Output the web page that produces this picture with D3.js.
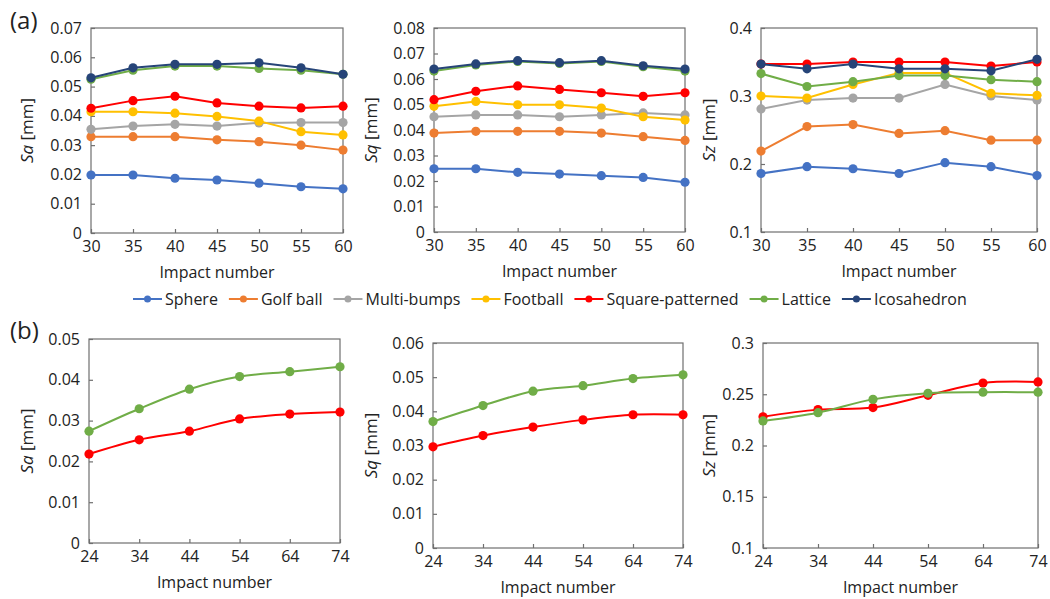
<!DOCTYPE html>
<html>
<head>
<meta charset="utf-8">
<script src="https://cdn.jsdelivr.net/npm/d3@7"></script>
<style>
  body { margin: 0; background: #fff; }
  text { font-family: "Open Sans", "Noto Sans", sans-serif; fill: #222; }
</style>
</head>
<body>
<div id="chart"></div>
<script>
// values
const SERIES = ["Sphere", "Golf ball", "Multi-bumps", "Football", "Square-patterned", "Lattice", "Icosahedron"];
const COLORS = ["#4472c4", "#ed7d31", "#a5a5a5", "#ffc000", "#ff0000", "#70ad47", "#264478"];

const IMPACT_A = [30, 35, 40, 45, 50, 55, 60];
const IMPACT_B = [24, 34, 44, 54, 64, 74];

const SA_A = [
  [0.0198, 0.0198, 0.0187, 0.0181, 0.0170, 0.0158, 0.0151],
  [0.0329, 0.0329, 0.0329, 0.0318, 0.0312, 0.0300, 0.0283],
  [0.0354, 0.0365, 0.0371, 0.0365, 0.0376, 0.0377, 0.0377],
  [0.0414, 0.0414, 0.0409, 0.0398, 0.0382, 0.0346, 0.0335],
  [0.0426, 0.0452, 0.0467, 0.0444, 0.0433, 0.0427, 0.0433],
  [0.0525, 0.0556, 0.0570, 0.0570, 0.0562, 0.0556, 0.0542],
  [0.0530, 0.0564, 0.0576, 0.0576, 0.0581, 0.0564, 0.0542]
];
const SQ_A = [
  [0.0248, 0.0248, 0.0234, 0.0227, 0.0221, 0.0214, 0.0195],
  [0.0388, 0.0395, 0.0395, 0.0395, 0.0388, 0.0374, 0.0359],
  [0.0452, 0.0459, 0.0459, 0.0452, 0.0459, 0.0467, 0.0459],
  [0.0493, 0.0512, 0.0499, 0.0499, 0.0486, 0.0452, 0.0439],
  [0.0519, 0.0552, 0.0573, 0.0559, 0.0546, 0.0532, 0.0546],
  [0.0631, 0.0655, 0.0669, 0.0661, 0.0669, 0.0648, 0.0631],
  [0.0639, 0.0659, 0.0672, 0.0664, 0.0672, 0.0652, 0.0639]
];
const SZ_A = [
  [0.186, 0.196, 0.193, 0.186, 0.202, 0.196, 0.183],
  [0.219, 0.255, 0.258, 0.245, 0.249, 0.235, 0.235],
  [0.281, 0.294, 0.297, 0.297, 0.317, 0.300, 0.294],
  [0.300, 0.297, 0.317, 0.334, 0.334, 0.304, 0.301],
  [0.347, 0.347, 0.350, 0.350, 0.350, 0.344, 0.350],
  [0.333, 0.314, 0.321, 0.330, 0.330, 0.324, 0.321],
  [0.347, 0.340, 0.347, 0.340, 0.340, 0.337, 0.354]
];

// (b): Square-patterned and Lattice only
const SERIES_B = [4, 5];
const SA_B = [
  [0.0218, 0.0253, 0.0274, 0.0304, 0.0316, 0.0321],
  [0.0274, 0.0329, 0.0377, 0.0408, 0.0420, 0.0432]
];
const SQ_B = [
  [0.0296, 0.0329, 0.0354, 0.0375, 0.0390, 0.0390],
  [0.0370, 0.0417, 0.0459, 0.0475, 0.0496, 0.0507]
];
const SZ_B = [
  [0.228, 0.235, 0.237, 0.249, 0.261, 0.262],
  [0.224, 0.232, 0.245, 0.251, 0.252, 0.252]
];

const TICKS_SA_A = [0, 0.01, 0.02, 0.03, 0.04, 0.05, 0.06, 0.07];
const TICKS_SQ_A = [0, 0.01, 0.02, 0.03, 0.04, 0.05, 0.06, 0.07, 0.08];
const TICKS_SZ_A = [0.1, 0.2, 0.3, 0.4];
const TICKS_SA_B = [0, 0.01, 0.02, 0.03, 0.04, 0.05];
const TICKS_SQ_B = [0, 0.01, 0.02, 0.03, 0.04, 0.05, 0.06];
const TICKS_SZ_B = [0.1, 0.15, 0.2, 0.25, 0.3];

const W = 1050, H = 599;

const svg = d3.select("#chart").append("svg")
  .attr("width", W).attr("height", H);

const ALL = SERIES.map((d, i) => i);
const panels = [
  {x0: 91, x1: 343, y0: 28, y1: 233, xs: IMPACT_A, data: SA_A, idx: ALL, ticks: TICKS_SA_A, sym: "a", lx: 33, smooth: false},
  {x0: 434, x1: 685, y0: 28, y1: 232, xs: IMPACT_A, data: SQ_A, idx: ALL, ticks: TICKS_SQ_A, sym: "q", lx: 377, smooth: false},
  {x0: 761, x1: 1037, y0: 28, y1: 232, xs: IMPACT_A, data: SZ_A, idx: ALL, ticks: TICKS_SZ_A, sym: "z", lx: 715, smooth: false},
  {x0: 89, x1: 340, y0: 339, y1: 543, xs: IMPACT_B, data: SA_B, idx: SERIES_B, ticks: TICKS_SA_B, sym: "a", lx: 33, smooth: true},
  {x0: 433, x1: 683, y0: 343, y1: 548, xs: IMPACT_B, data: SQ_B, idx: SERIES_B, ticks: TICKS_SQ_B, sym: "q", lx: 377, smooth: true},
  {x0: 763, x1: 1038, y0: 343, y1: 548, xs: IMPACT_B, data: SZ_B, idx: SERIES_B, ticks: TICKS_SZ_B, sym: "z", lx: 715, smooth: true}
];

panels.forEach(p => {
  const x = d3.scaleLinear().domain(d3.extent(p.xs)).range([p.x0, p.x1]);
  const y = d3.scaleLinear().domain(d3.extent(p.ticks)).range([p.y1, p.y0]);
  const g = svg.append("g");

  // frame
  g.append("rect")
    .attr("x", p.x0).attr("y", p.y0)
    .attr("width", p.x1 - p.x0).attr("height", p.y1 - p.y0)
    .attr("fill", "none").attr("stroke", "#6f6f6f").attr("stroke-width", 1.2);

  // ticks point inwards, as in the original
  const yAxis = g.append("g")
    .attr("transform", `translate(${p.x0},0)`)
    .call(d3.axisLeft(y).tickValues(p.ticks).tickSizeInner(-4).tickSizeOuter(0).tickPadding(9)
      .tickFormat(d => String(+d.toFixed(3))));
  const xAxis = g.append("g")
    .attr("transform", `translate(0,${p.y1})`)
    .call(d3.axisBottom(x).tickValues(p.xs).tickSizeInner(-4).tickSizeOuter(0).tickPadding(6));
  [yAxis, xAxis].forEach(a => {
    a.select(".domain").remove();
    a.selectAll(".tick line").attr("stroke", "#6f6f6f").attr("stroke-width", 1.2);
    a.selectAll(".tick text").attr("font-size", 16).attr("fill", "#222")
      .attr("font-family", "'Open Sans', sans-serif");
  });
  xAxis.selectAll(".tick text").attr("dy", "0.8em");

  g.append("text")
    .attr("x", (p.x0 + p.x1) / 2).attr("y", p.y1 + 45)
    .attr("text-anchor", "middle").attr("font-size", 16)
    .text("Impact number");

  const lab = g.append("text")
    .attr("transform", `translate(${p.lx},${(p.y0 + p.y1) / 2}) rotate(-90)`)
    .attr("text-anchor", "middle").attr("font-size", 17);
  lab.append("tspan").attr("font-style", "italic").text("S" + p.sym);
  lab.append("tspan").text(" [mm]");

  const line = d3.line()
    .x((d, i) => x(p.xs[i])).y(d => y(d))
    .curve(p.smooth ? d3.curveCatmullRom : d3.curveLinear);

  p.data.forEach((vals, k) => {
    const c = COLORS[p.idx[k]];
    g.append("path").datum(vals)
      .attr("d", line).attr("fill", "none")
      .attr("stroke", c).attr("stroke-width", 2);
    g.selectAll(null).data(vals).enter().append("circle")
      .attr("cx", (d, i) => x(p.xs[i])).attr("cy", d => y(d))
      .attr("r", 4.6).attr("fill", c);
  });
});

// panel letters
svg.append("text").attr("x", 10).attr("y", 29).attr("font-size", 24).text("(a)");
svg.append("text").attr("x", 10).attr("y", 339).attr("font-size", 24).text("(b)");

// legend
const leg = svg.append("g").attr("transform", "translate(0,299)");
let lx = 133;
SERIES.forEach((name, i) => {
  leg.append("line").attr("x1", lx).attr("x2", lx + 29)
    .attr("stroke", COLORS[i]).attr("stroke-width", 2);
  leg.append("circle").attr("cx", lx + 14.5).attr("r", 3.5).attr("fill", COLORS[i]);
  const t = leg.append("text").attr("x", lx + 32).attr("y", 6)
    .attr("font-size", 16).text(name);
  lx += 32 + t.node().getComputedTextLength() + 11;
});
</script>
</body>
</html>
